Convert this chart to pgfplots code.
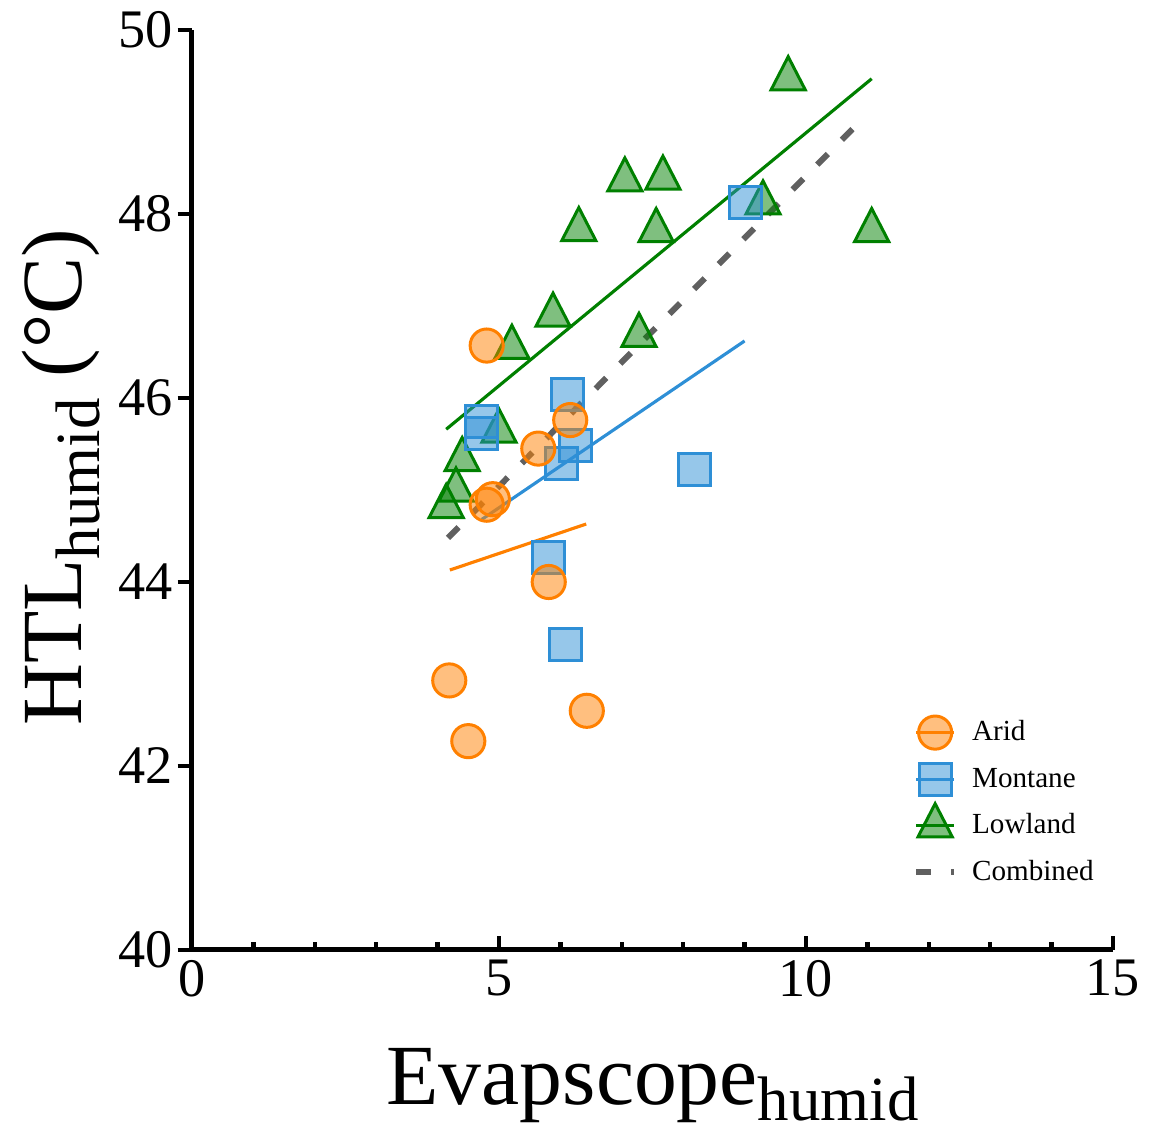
\documentclass[border=0pt]{standalone}
\usepackage{pgfplots}
\pgfplotsset{compat=1.18}
\usepackage{fontspec}
\setmainfont{Liberation Serif}
\definecolor{aridC}{RGB}{255,128,0}
\definecolor{montC}{RGB}{46,143,214}
\definecolor{lowC}{RGB}{0,128,0}
\definecolor{combC}{RGB}{96,96,96}
\begin{document}
\begin{tikzpicture}
\useasboundingbox (-67.2pt,-63.35pt) rectangle (334.95pt,332.5pt);
\begin{axis}[
  at={(0pt,0pt)}, anchor=south west,
  scale only axis, width=322.35pt, height=322pt,
  xmin=0, xmax=15, ymin=40, ymax=50,
  axis lines=left,
  axis line style={-, line width=1.75pt, black},
  xtick={0,5,10,15}, ytick={40,42,...,50},
  minor x tick num=4, minor y tick num=0,
  xtick align=inside, ytick align=outside,
  major tick length=5pt, minor tick length=2.8pt,
  tick style={line width=1.5pt, black},
  clip=false,
  ticklabel style={font=\fontsize{19}{21}\selectfont},
  yticklabel style={xshift=1.75pt},
  /pgf/number format/assume math mode=true,
  xlabel={\fontsize{30}{34}\selectfont Evapscope\raisebox{-5.5pt}{\fontsize{22}{24}\selectfont humid}},
  ylabel={\fontsize{30}{34}\selectfont HTL\raisebox{-6pt}{\fontsize{22}{24}\selectfont humid} (°C)},
  xlabel style={at={([yshift=-54.25pt]axis description cs:0.5,0)}, anchor=base},
  ylabel style={at={([xshift=-38.5pt]axis description cs:0,0.514)}, anchor=base},
  legend style={draw=none, fill=none, inner sep=0pt, outer sep=0pt, row sep=0pt,
    font=\fontsize{10.2}{12}\selectfont,
    nodes={inner sep=0pt, text height=11pt, text depth=5.3pt},
    /tikz/every odd column/.append style={column sep=5.25pt},
    at={(rel axis cs:0.783,0.238)}, anchor=north west, yshift=7.6pt},
  legend cell align=left,
  legend image code/.code={\draw[mark repeat=2,mark phase=2,#1] plot coordinates {(0pt,0pt)(6.65pt,0pt)(13.3pt,0pt)};},
]
% fit lines
\addplot[forget plot, aridC, line width=1.1pt] coordinates {(4.20,44.13) (6.42,44.63)};
\addplot[forget plot, montC, line width=1.1pt] coordinates {(4.72,44.68) (9.00,46.62)};
\addplot[forget plot, lowC, line width=1.1pt] coordinates {(4.14,45.66) (11.07,49.47)};
\addplot[forget plot, combC, line width=2.1pt, dash pattern=on 5.25pt off 7pt] coordinates {(4.17,44.48) (10.90,49.02)};
% Lowland
\addplot[forget plot, only marks, mark=triangle*, mark size=6.9pt,
  mark options={draw=lowC, fill=lowC, fill opacity=0.5, line width=1.05pt, yscale=1.12}] coordinates {
(9.71,49.47) (7.05,48.37) (7.67,48.39) (7.56,47.82) (9.30,48.12) (11.07,47.82)
(7.28,46.68) (6.30,47.83) (5.88,46.90) (5.21,46.55) (5.00,45.64) (4.40,45.33)
(4.30,45.00) (4.14,44.82)};
% Montane
\addplot[forget plot, only marks, mark=square*, mark size=5.6pt,
  mark options={draw=montC, fill=montC, fill opacity=0.5, line width=1.05pt}] coordinates {
(6.12,46.04) (4.72,45.74) (4.72,45.61) (6.25,45.48) (6.01,45.29) (8.18,45.22)
(5.80,44.27) (6.09,43.32) (9.01,48.12)};
% Arid
\addplot[forget plot, only marks, mark=*, mark size=5.8pt,
  mark options={draw=aridC, fill=aridC, fill opacity=0.5, line width=1.05pt}] coordinates {
(4.80,46.57) (6.16,45.76) (5.64,45.45) (4.80,44.84) (4.90,44.90) (5.81,44.00)
(4.19,42.93) (4.50,42.27) (6.43,42.60)};
% legend
\addlegendimage{aridC, line width=1.05pt, mark=*, mark size=5.8pt, mark options={fill=aridC, fill opacity=0.5}}
\addlegendentry{Arid}
\addlegendimage{montC, line width=1.05pt, mark=square*, mark size=5.6pt, mark options={fill=montC, fill opacity=0.5}}
\addlegendentry{Montane}
\addlegendimage{lowC, line width=1.05pt, mark=triangle*, mark size=6.9pt, mark options={fill=lowC, fill opacity=0.5, yscale=1.12}}
\addlegendentry{Lowland}
\addlegendimage{combC, line width=2.1pt, dash pattern=on 5.25pt off 7pt}
\addlegendentry{Combined}
\end{axis}
\end{tikzpicture}
\end{document}
